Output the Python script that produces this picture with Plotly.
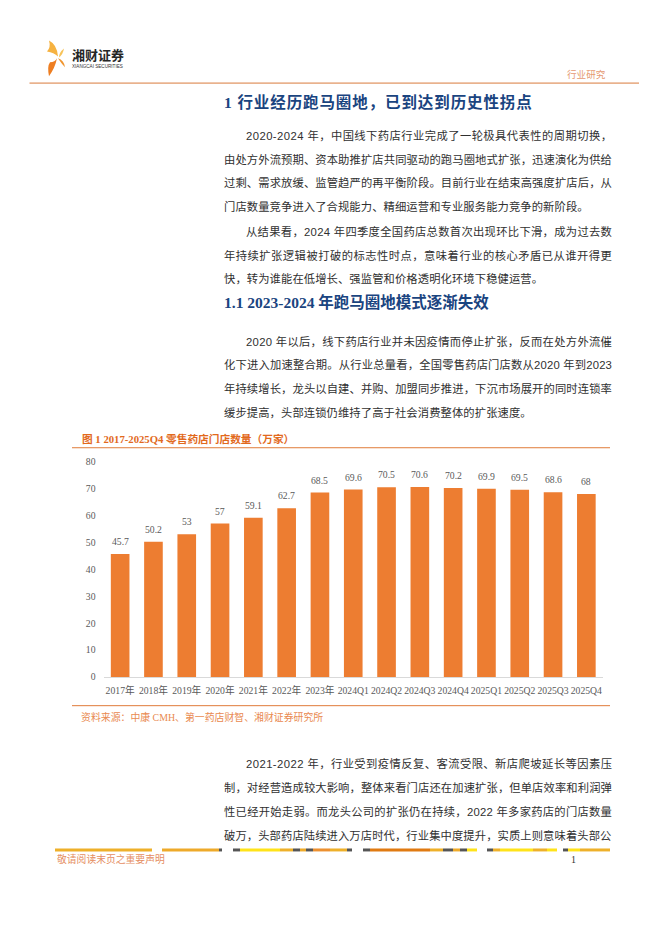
import plotly.graph_objects as go

W, H = 662, 936

# ---------------- data ----------------
categories = ["2017年", "2018年", "2019年", "2020年", "2021年", "2022年", "2023年",
              "2024Q1", "2024Q2", "2024Q3", "2024Q4", "2025Q1", "2025Q2", "2025Q3", "2025Q4"]
store_counts = [45.7, 50.2, 53, 57, 59.1, 62.7, 68.5, 69.6, 70.5, 70.6, 70.2, 69.9, 69.5, 68.6, 68]
y_ticks = [0, 10, 20, 30, 40, 50, 60, 70, 80]

chart_title = "图 1 2017-2025Q4 零售药店门店数量（万家）"
source_note = "资料来源：中康 CMH、第一药店财智、湘财证券研究所"
heading_1 = "1 行业经历跑马圈地，已到达到历史性拐点"
heading_1_1 = "1.1 2023-2024 年跑马圈地模式逐渐失效"
para_1 = ["2020-2024 年，中国线下药店行业完成了一轮极具代表性的周期切换，",
          "由处方外流预期、资本助推扩店共同驱动的跑马圈地式扩张，迅速演化为供给",
          "过剩、需求放缓、监管趋严的再平衡阶段。目前行业在结束高强度扩店后，从",
          "门店数量竞争进入了合规能力、精细运营和专业服务能力竞争的新阶段。"]
para_2 = ["从结果看，2024 年四季度全国药店总数首次出现环比下滑，成为过去数",
          "年持续扩张逻辑被打破的标志性时点，意味着行业的核心矛盾已从谁开得更",
          "快，转为谁能在低增长、强监管和价格透明化环境下稳健运营。"]
para_3 = ["2020 年以后，线下药店行业并未因疫情而停止扩张，反而在处方外流催",
          "化下进入加速整合期。从行业总量看，全国零售药店门店数从2020 年到2023",
          "年持续增长，龙头以自建、并购、加盟同步推进，下沉市场展开的同时连锁率",
          "缓步提高，头部连锁仍维持了高于社会消费整体的扩张速度。"]
para_4 = ["2021-2022 年，行业受到疫情反复、客流受限、新店爬坡延长等因素压",
          "制，对经营造成较大影响，整体来看门店还在加速扩张，但单店效率和利润弹",
          "性已经开始走弱。而龙头公司的扩张仍在持续，2022 年多家药店的门店数量",
          "破万，头部药店陆续进入万店时代，行业集中度提升，实质上则意味着头部公"]
header_tag = "行业研究"
brand_cn = "湘财证券"
brand_en = "XIANGCAI SECURITIES"
footer_note = "敬请阅读末页之重要声明"
page_no = "1"

# ---------------- style ----------------
SERIF = "Liberation Serif, Noto Sans CJK SC, serif"
BODY = "Liberation Sans, Noto Sans CJK SC, sans-serif"
CJK = "Noto Sans CJK SC, sans-serif"
BAR = "#ED7D31"
AXIS_TXT = "#595959"
BODY_TXT = "#303030"
BLUE = "#1A4480"
ORANGE_T = "#E2691C"
ORANGE_L = "#E07B39"

def px(x):
    return x / W

def py(y):
    return 1 - y / H

LATIN_W = {str(d): 0.556 for d in range(10)}
LATIN_W.update({"-": 0.333, " ": 0.278})

def text_width(s, fs):
    w = 0.0
    for ch in s:
        w += fs if ord(ch) >= 0x2E80 else LATIN_W.get(ch, 0.556) * fs
    return w

annotations = []
shapes = []

def add_text(x, y, text, size, color, family, bold=False, anchor="left"):
    annotations.append(dict(
        x=px(x), y=py(y), xref="paper", yref="paper", text=text, showarrow=False,
        xanchor=anchor, yanchor="middle", borderpad=0,
        font=dict(size=size, color=color, family=family, weight="bold" if bold else "normal")))

BODY_FS = 11.3
RIGHT = 611

def add_paragraph(lines, y0, step=24, left=223, indent=22):
    for i, line in enumerate(lines):
        x = left + (indent if i == 0 else 0)
        last = i == len(lines) - 1
        nat = text_width(line, BODY_FS)
        if last:
            ls = 0.1
        else:
            ls = (RIGHT - x - nat) / (len(line) - 1)
        add_text(x, y0 + i * step,
                 f'<span style="letter-spacing:{ls:.3f}px">{line}</span>',
                 BODY_FS, BODY_TXT, BODY)

def hline(x0, x1, y, color, width=1):
    shapes.append(dict(type="line", xref="paper", yref="paper",
                       x0=px(x0), x1=px(x1), y0=py(y), y1=py(y),
                       line=dict(color=color, width=width)))

def rect(x0, x1, y0, y1, color):
    shapes.append(dict(type="rect", xref="paper", yref="paper",
                       x0=px(x0), x1=px(x1), y0=py(y1), y1=py(y0),
                       fillcolor=color, line=dict(width=0)))

def path(cmds, color, dx=0.0):
    parts = []
    for c in cmds:
        op, pts = c[0], c[1:]
        coords = " ".join(f"{px(pts[k] + dx):.5f},{py(pts[k + 1]):.5f}" for k in range(0, len(pts), 2))
        parts.append(f"{op} {coords}")
    shapes.append(dict(type="path", xref="paper", yref="paper",
                       path=" ".join(parts) + " Z", fillcolor=color, line=dict(width=0)))

# ---------------- header ----------------
LDX = -3
path([("M", 52, 35), ("Q", 60, 39, 61, 51), ("Q", 57, 47, 50, 46), ("Q", 54, 42, 52, 35)], "#F6B240", LDX)
path([("M", 67, 43), ("Q", 66, 49, 62, 52), ("Q", 62, 47, 67, 43)], "#F7C35A", LDX)
path([("M", 61, 53), ("Q", 67, 55, 68, 62), ("Q", 64, 58, 61, 53)], "#F0952E", LDX)
path([("M", 60, 53), ("Q", 58, 63, 52, 71), ("Q", 50, 61, 53, 57), ("Q", 58, 57, 60, 53)], "#EE7E22", LDX)
add_text(74 + LDX, 49, brand_cn, 13, "#262626", CJK, bold=True)
add_text(74 + LDX, 61.5, brand_en, 4.6, "#333333", BODY)
add_text(606.5, 68.5, header_tag, 9.6, "#E59A72", CJK, anchor="right")
hline(29.5, 639, 78, "#D97A3C", 1)

# ---------------- body text ----------------
add_text(223, 97, f'<span style="letter-spacing:0.9px">{heading_1}</span>', 15.5, BLUE, SERIF, bold=True)
add_paragraph(para_1, 131)
add_paragraph(para_2, 228)
add_text(223, 300, heading_1_1, 15.5, BLUE, SERIF, bold=True)
add_paragraph(para_3, 339)
add_paragraph(para_4, 767)

# ---------------- chart frame ----------------
add_text(80.5, 438, chart_title, 10.7, ORANGE_T, SERIF, bold=True)
hline(72, 610, 447, ORANGE_L, 1)
hline(72, 610, 708, ORANGE_L, 1)
add_text(79.5, 719, source_note, 9.9, "#E98A50", SERIF)

# ---------------- footer ----------------
stripe = [(55, 152, "#EEB02A"), (162, 219, "#EEAA2A"), (219, 222, "#555555"),
          (233, 240, "#555555"), (240, 280, "#FFE31A"), (280, 293, "#EEB02A"), (293, 300, "#555555"),
          (300, 306, "#EEAA2A"), (306, 313, "#555555"), (313, 330, "#EC9030"), (330, 347, "#EEB02A"),
          (347, 352, "#555555"), (363, 370, "#555555"), (370, 430, "#E07A12"), (430, 443, "#EEB02A"),
          (443, 453, "#555555"), (453, 460, "#EEAA2A"), (460, 467, "#555555"), (467, 477, "#FFE31A"),
          (487, 493, "#555555"), (493, 500, "#EEB02A"), (500, 533, "#FFE31A"), (533, 547, "#EEB02A"),
          (547, 557, "#FFE31A"), (563, 568, "#555555"), (568, 580, "#FFE31A"), (580, 610, "#EEB02A")]
for x0, x1, c in stripe:
    rect(x0, x1, 852.5, 855.5, c)
add_text(56, 863.5, footer_note, 9.8, "#E58E62", CJK)
add_text(573, 864, page_no, 10, "#333333", SERIF, anchor="center")

# ---------------- chart ----------------
fig = go.Figure(go.Bar(x=categories, y=store_counts, marker=dict(color=BAR, line=dict(width=0)),
                       width=0.56, hoverinfo="x+y"))

for c, v in zip(categories, store_counts):
    annotations.append(dict(x=c, y=v, xref="x", yref="y", text=f"{v:g}", showarrow=False,
                            yshift=12.5, xanchor="center", yanchor="middle",
                            font=dict(size=9.7, color=AXIS_TXT, family=SERIF)))

fig.update_layout(
    width=W, height=H, margin=dict(l=0, r=0, t=0, b=0),
    paper_bgcolor="white", plot_bgcolor="white", showlegend=False,
    xaxis=dict(domain=[px(103.5), px(603)], type="category", tickmode="array",
               tickvals=categories, ticktext=categories, tickangle=0,
               showline=True, linecolor="#D9D9D9", linewidth=1, ticks="",
               showgrid=False, zeroline=False, ticklabelstandoff=4,
               tickfont=dict(family=SERIF, size=9.7, color=AXIS_TXT)),
    yaxis=dict(domain=[py(679), py(461)], range=[0, 80], tickmode="array", tickvals=y_ticks,
               showgrid=False, zeroline=False, showline=False, ticks="", ticklabelstandoff=7,
               tickfont=dict(family=SERIF, size=9.7, color=AXIS_TXT)),
    annotations=annotations, shapes=shapes,
)

fig.write_html("out.html", config={"displayModeBar": False},
               post_script="document.body.style.margin='0';document.body.style.overflow='hidden';")
